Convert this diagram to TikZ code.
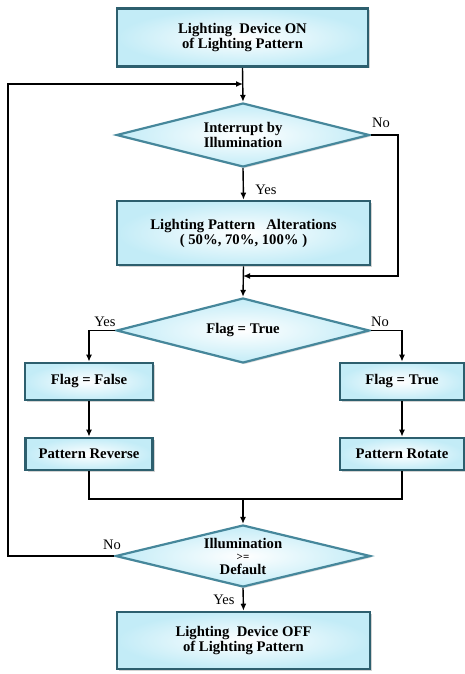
\documentclass[tikz,border=0pt]{standalone}
\usepackage{fontspec}
\setmainfont{Liberation Serif}
\usetikzlibrary{shapes.geometric,shadows,arrows.meta}
\definecolor{boxborder}{RGB}{45,95,110}
\definecolor{dborder}{RGB}{70,135,155}
\definecolor{fillc}{RGB}{195,236,247}
\newcommand{\ctrline}[1]{\makebox[0pt][c]{#1}}
\begin{document}
\begin{tikzpicture}[x=1pt,y=1pt,
  pbox/.style={rectangle, draw=boxborder, line width=2.6pt, inner color=white, outer color=fillc,
    drop shadow={shadow xshift=2pt,shadow yshift=-2pt,opacity=0.35},
    font=\bfseries\fontsize{14.7}{15}\selectfont, align=center, inner sep=0pt},
  dec/.style={diamond, aspect=1, draw=dborder, line width=2.2pt, inner color=white, outer color=fillc,
    drop shadow={shadow xshift=1.5pt,shadow yshift=-1.5pt,opacity=0.3},
    font=\bfseries\fontsize{14.7}{15.5}\selectfont, align=center, inner sep=0pt},
  conn/.style={line width=1.4pt, black},
  arr/.style={conn, -{Latex[length=7pt,width=6pt]}},
  lbl/.style={font=\fontsize{14.5}{16}\selectfont, inner sep=0pt}]
\useasboundingbox (0,0) rectangle (465,-674);

\node[pbox, minimum width=251pt, minimum height=58pt] (start) at (242.5,-37.5)
  {Lighting\ \ Device ON\\of Lighting Pattern};
\node[dec, minimum width=253pt, minimum height=64pt] (d1) at (243,-135)
  {\ctrline{Interrupt by}\\\ctrline{Illumination}};
\node[pbox, minimum width=253pt, minimum height=64pt] (alt) at (243.5,-233)
  {Lighting Pattern\ \ \ Alterations\\( 50\%, 70\%, 100\% )};
\node[dec, minimum width=253pt, minimum height=65pt] (d2) at (243,-330.5)
  {\ctrline{Flag = True}};
\node[pbox, minimum width=128pt, minimum height=37pt] (ff) at (89,-381.5) {Flag = False};
\node[pbox, minimum width=124pt, minimum height=37pt] (ft) at (402,-381.5) {Flag = True};
\node[pbox, minimum width=127pt, minimum height=32pt] (pr) at (89,-454) {Pattern Reverse};
\node[pbox, minimum width=124pt, minimum height=32pt] (prot) at (402,-454) {Pattern Rotate};
\node[dec, minimum width=255pt, minimum height=62pt] (d3) at (243,-556)
  {\ctrline{Illumination}\\[-3pt]\ctrline{\fontsize{11}{11}\selectfont >=}\\[-2pt]\ctrline{Default}};
\node[pbox, minimum width=253pt, minimum height=57pt] (end) at (243.5,-640.5)
  {Lighting\ \ Device OFF\\of Lighting Pattern};

% coordinates
\coordinate (lb) at (8,-556);
\coordinate (lt) at (8,-84);
\coordinate (lj) at (243,-84);
\coordinate (r1) at (398,-135);
\coordinate (r2) at (398,-276);
\coordinate (mj) at (243,-276);
\coordinate (mg) at (243,-499);

% connectors
\draw[arr] (start.south) -- (d1.north);
\draw[arr] (d3.west) -- (lb) -- (lt) -- (lj);
\draw[arr] (d1.south) -- (alt.north);
\draw[arr] (d1.east) -- (r1) -- (r2) -- (mj);
\draw[arr] (alt.south) -- (d2.north);
\draw[arr] (d2.west) -| (ff.north);
\draw[arr] (d2.east) -| (ft.north);
\draw[arr] (ff.south) -- (pr.north);
\draw[arr] (ft.south) -- (prot.north);
\draw[conn] (pr.south) |- (mg);
\draw[conn] (prot.south) |- (mg);
\draw[arr] (mg) -- (d3.north);
\draw[arr] (d3.south) -- (end.north);

% labels
\node[lbl] (n1) at (381,-123) {No};
\node[lbl] (y1) at (266,-190) {Yes};
\node[lbl] (y2) at (105,-322) {Yes};
\node[lbl] (n2) at (380,-322) {No};
\node[lbl] (n3) at (112,-545) {No};
\node[lbl] (y3) at (224,-600) {Yes};
\end{tikzpicture}
\end{document}
